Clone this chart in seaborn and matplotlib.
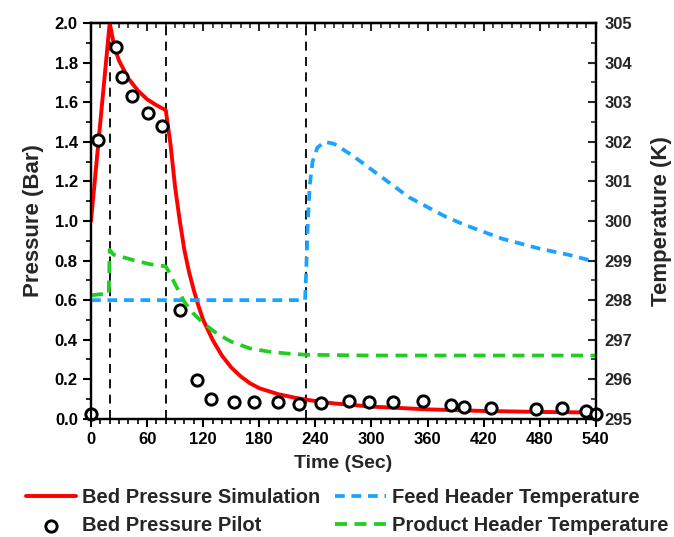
import matplotlib
matplotlib.use("Agg")
import matplotlib.pyplot as plt
from matplotlib.ticker import MultipleLocator
import seaborn as sns
import pandas as pd

# ---- data ----
sim_t = [0, 5, 10, 15, 20, 25, 30, 40, 50, 60, 70, 80, 85, 90, 95, 100, 105, 110,
         115, 120, 130, 140, 150, 160, 170, 180, 200, 220, 240, 260, 300, 360, 420, 480, 540]
sim_p = [1.0, 1.25, 1.5, 1.75, 2.0, 1.88, 1.81, 1.72, 1.66, 1.615, 1.585, 1.56, 1.39, 1.17, 1.0,
         0.85, 0.74, 0.65, 0.57, 0.50, 0.40, 0.32, 0.26, 0.215, 0.18, 0.155, 0.125, 0.105,
         0.09, 0.078, 0.062, 0.048, 0.040, 0.035, 0.032]

pilot_t = [0, 8, 27, 33, 44, 61, 76, 95, 113, 128, 153, 174, 200, 223, 246,
           276, 297, 323, 355, 385, 399, 428, 476, 504, 529, 540]
pilot_p = [0.025, 1.41, 1.88, 1.73, 1.63, 1.545, 1.48, 0.55, 0.195, 0.10, 0.087, 0.087, 0.087,
           0.075, 0.08, 0.09, 0.086, 0.084, 0.09, 0.07, 0.062, 0.054, 0.049, 0.056, 0.04, 0.024]

feed_t = [0, 100, 229, 230, 231, 232, 234, 237, 242, 250, 260, 280, 300, 340, 380, 400,
          440, 480, 510, 540]
feed_T = [298.0, 298.0, 298.0, 298.6, 299.3, 300.0, 300.9, 301.5, 301.85, 302.0, 301.95,
          301.65, 301.3, 300.6, 300.1, 299.9, 299.55, 299.3, 299.15, 298.97]

prod_t = [0, 10, 19, 20, 24, 35, 50, 65, 78, 80, 85, 90, 95, 100, 110, 120, 135, 150, 170,
          190, 210, 230, 300, 540]
prod_T = [298.12, 298.15, 298.15, 299.27, 299.15, 299.08, 298.98, 298.9, 298.86, 298.85,
          298.65, 298.4, 298.18, 297.95, 297.65, 297.42, 297.15, 296.95, 296.78, 296.7,
          296.65, 296.62, 296.6, 296.6]

step_times = [20, 80, 230]

x_ticks = [0, 60, 120, 180, 240, 300, 360, 420, 480, 540]

# ---- style ----
sns.set_style("ticks")
plt.rcParams["font.family"] = ["Liberation Sans", "DejaVu Sans"]
plt.rcParams["font.weight"] = "bold"

fig = plt.figure(figsize=(6.74, 5.37), dpi=100)
ax = fig.add_axes([0.135, 0.220, 0.749, 0.737])
ax2 = ax.twinx()

sim_df = pd.DataFrame({"t": sim_t, "p": sim_p})
pilot_df = pd.DataFrame({"t": pilot_t, "p": pilot_p})
feed_df = pd.DataFrame({"t": feed_t, "T": feed_T})
prod_df = pd.DataFrame({"t": prod_t, "T": prod_T})

for xv in step_times:
    ax.axvline(xv, color="black", lw=1.3, linestyle=(0, (5, 3.5)), zorder=1)

sns.lineplot(data=sim_df, x="t", y="p", ax=ax, color="#ff0000", lw=2.8,
             estimator=None, label="Bed Pressure Simulation", zorder=3)
sns.scatterplot(data=pilot_df, x="t", y="p", ax=ax, marker="o", s=66,
                facecolor="white", edgecolor="black", linewidth=2.1,
                label="Bed Pressure Pilot", zorder=4, clip_on=False)

sns.lineplot(data=feed_df, x="t", y="T", ax=ax2, color="#1aa3ff", lw=2.7,
             estimator=None, linestyle=(0, (2.6, 1.8)), label="Feed Header Temperature")
sns.lineplot(data=prod_df, x="t", y="T", ax=ax2, color="#22cc22", lw=2.7,
             estimator=None, linestyle=(0, (3.2, 2.0)), label="Product Header Temperature")

ax.set_xlim(0, 540)
ax.set_ylim(0, 2.0)
ax2.set_ylim(295, 305)

ax.set_xticks(x_ticks)
ax.xaxis.set_minor_locator(MultipleLocator(10))
ax.yaxis.set_major_locator(MultipleLocator(0.2))
ax.yaxis.set_minor_locator(MultipleLocator(0.1))
ax2.yaxis.set_major_locator(MultipleLocator(1))
ax2.yaxis.set_minor_locator(MultipleLocator(0.5))
ax.yaxis.set_major_formatter(matplotlib.ticker.FormatStrFormatter("%.1f"))

ax.set_xlabel("Time (Sec)", fontsize=14, fontweight="bold", labelpad=6)
ax.set_ylabel("Pressure (Bar)", fontsize=16, fontweight="bold", labelpad=8)
ax2.set_ylabel("Temperature (K)", fontsize=16, fontweight="bold", labelpad=14)

for a in (ax, ax2):
    for s in a.spines.values():
        s.set_linewidth(1.6)
        s.set_color("black")

ax.tick_params(axis="both", which="major", labelsize=12, width=1.5, length=6, colors="black")
ax.tick_params(axis="both", which="minor", width=1.2, length=3.5, colors="black")
ax.tick_params(axis="x", which="both", direction="out", top=False)
ax.tick_params(axis="y", which="both", direction="out")
ax2.tick_params(axis="y", which="major", labelsize=12, width=1.5, length=6, direction="in", pad=6)
ax2.tick_params(axis="y", which="minor", width=1.2, length=3.5, direction="in")
for lab in ax.get_xticklabels() + ax.get_yticklabels() + ax2.get_yticklabels():
    lab.set_fontweight("bold")

# top ticks point inward
axt = ax.secondary_xaxis("top")
axt.set_xticks(x_ticks)
axt.xaxis.set_minor_locator(MultipleLocator(10))
axt.tick_params(axis="x", which="major", direction="in", length=6, width=1.5, labeltop=False)
axt.tick_params(axis="x", which="minor", direction="in", length=3.5, width=1.2)
axt.spines["top"].set_linewidth(1.6)

h1, l1 = ax.get_legend_handles_labels()
h2, l2 = ax2.get_legend_handles_labels()
if ax.get_legend():
    ax.get_legend().remove()
if ax2.get_legend():
    ax2.get_legend().remove()
fig.legend(h1 + h2, l1 + l2, loc="upper left", bbox_to_anchor=(0.026, 0.106),
           ncol=2, frameon=False, prop={"size": 14.5, "weight": "bold"},
           handlelength=2.5, handletextpad=0.3, columnspacing=0.75, labelspacing=0.45,
           borderaxespad=0)

fig.savefig("out.png", dpi=100)
